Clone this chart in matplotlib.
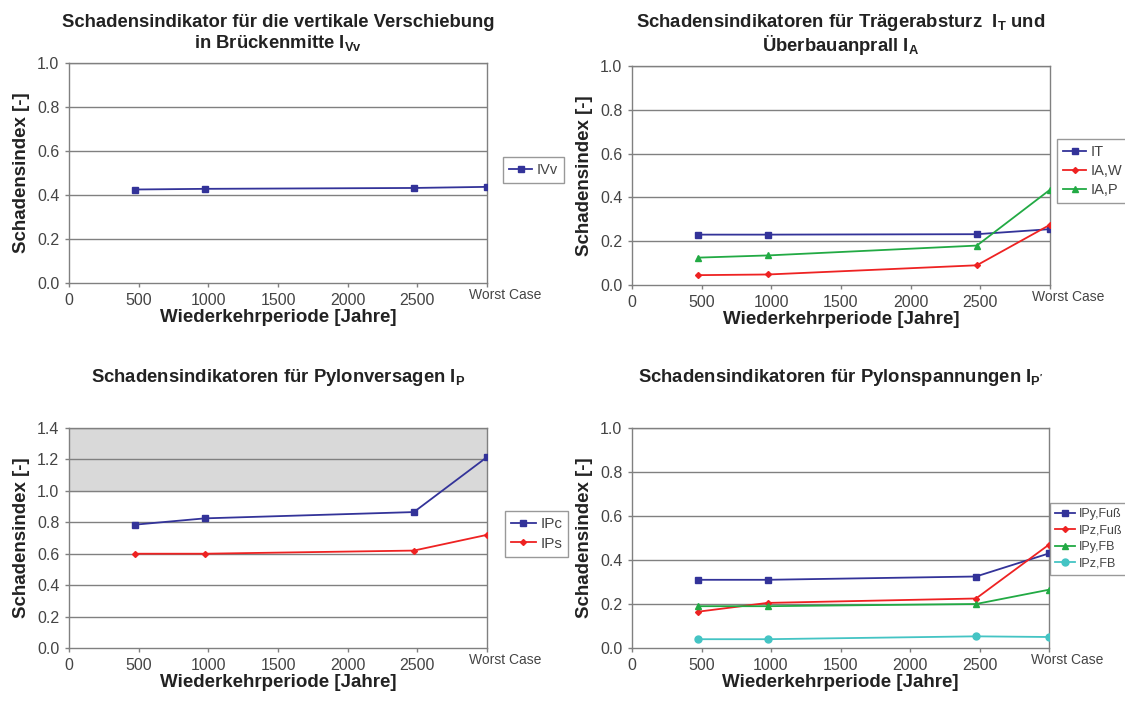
import matplotlib.pyplot as plt
import matplotlib.transforms as mtransforms

plt.rcParams['font.family'] = ['Liberation Sans', 'DejaVu Sans']
plt.rcParams['mathtext.fontset'] = 'custom'
plt.rcParams['mathtext.rm'] = 'Liberation Sans'
plt.rcParams['mathtext.bf'] = 'Liberation Sans:bold'

# x positions of the return periods; "Worst Case" sits at the axis end
periods = [475, 975, 2475, 3000]
x_ticks = [0, 500, 1000, 1500, 2000, 2500, 3000]
x_labels = ['0', '500', '1000', '1500', '2000', '2500', '']

# top left
ivv = [0.425, 0.428, 0.432, 0.437]

# top right
it = [0.230, 0.230, 0.232, 0.255]
ia_w = [0.045, 0.048, 0.090, 0.275]
ia_p = [0.125, 0.135, 0.180, 0.435]

# bottom left
ipc = [0.785, 0.825, 0.865, 1.215]
ips = [0.600, 0.600, 0.620, 0.720]

# bottom right
ipy_fuss = [0.310, 0.310, 0.325, 0.430]
ipz_fuss = [0.165, 0.205, 0.225, 0.470]
ipy_fb = [0.190, 0.190, 0.200, 0.265]
ipz_fb = [0.040, 0.040, 0.053, 0.050]

NAVY = '#333399'
RED = '#ee2222'
GREEN = '#22aa44'
CYAN = '#44c4c4'
GRID = '#808080'
TXT = '#444444'
DARK = '#222222'

W, H = 1125, 702
fig = plt.figure(figsize=(W / 100, H / 100), dpi=100)


def px_axes(x0, y0, x1, y1):
    return fig.add_axes([x0 / W, 1 - y1 / H, (x1 - x0) / W, (y1 - y0) / H])


def style(ax, ymax):
    ax.set_xlim(0, 3000)
    ax.set_ylim(0, ymax)
    ax.set_xticks(x_ticks)
    ax.set_xticklabels(x_labels)
    yt = [round(0.2 * i, 1) for i in range(int(round(ymax / 0.2)) + 1)]
    ax.set_yticks(yt)
    ax.set_yticklabels([f'{v:.1f}' for v in yt])
    ax.tick_params(labelsize=11.5, colors=GRID, labelcolor=TXT, length=3, width=1, pad=4)
    for s in ax.spines.values():
        s.set_color(GRID)
        s.set_linewidth(1)
    for v in yt[1:]:
        ax.axhline(v, color=GRID, lw=1, zorder=1)
    ax.set_xlabel('Wiederkehrperiode [Jahre]', fontsize=13.5, fontweight='bold',
                  color=DARK, labelpad=1)
    ax.set_ylabel('Schadensindex [-]', fontsize=13.5, fontweight='bold',
                  color=DARK, labelpad=5)
    off = mtransforms.ScaledTranslation(18 / 100, -5 / 100, fig.dpi_scale_trans)
    ax.text(3000, 0, 'Worst Case', transform=ax.get_xaxis_transform() + off,
            ha='center', va='top', fontsize=10, color=TXT)


def leg(ax, fx, fy, fs=10.5):
    lg = ax.legend(loc='center left', bbox_to_anchor=(fx / W, 1 - fy / H),
                   bbox_transform=fig.transFigure, fontsize=fs, frameon=True,
                   fancybox=False, edgecolor=GRID, handlelength=1.6,
                   handletextpad=0.3, borderpad=0.4, labelspacing=0.35,
                   borderaxespad=0)
    lg.get_frame().set_linewidth(1)
    for t in lg.get_texts():
        t.set_color(TXT)


TFS = 13.3

# --- top left
ax1 = px_axes(69, 63, 487, 283)
style(ax1, 1.0)
ax1.plot(periods, ivv, '-s', color=NAVY, ms=5, lw=1.3, label='IVv', zorder=3)
ax1.set_title('Schadensindikator für die vertikale Verschiebung\n'
              r'in Brückenmitte $\mathbf{I}_{\mathbf{Vv}}$',
              fontsize=TFS, fontweight='bold', color=DARK, pad=11, linespacing=1.1)
leg(ax1, 503, 170)

# --- top right
ax2 = px_axes(632, 66, 1050, 285)
style(ax2, 1.0)
ax2.plot(periods, it, '-s', color=NAVY, ms=5, lw=1.3, label='IT', zorder=3)
ax2.plot(periods, ia_w, '-D', color=RED, ms=3, lw=1.3, label='IA,W', zorder=3)
ax2.plot(periods, ia_p, '-^', color=GREEN, ms=5, lw=1.3, label='IA,P', zorder=3)
ax2.set_title(r'Schadensindikatoren für Trägerabsturz  $\mathbf{I}_{\mathbf{T}}$ und'
              '\n' r'Überbauanprall $\mathbf{I}_{\mathbf{A}}$',
              fontsize=TFS, fontweight='bold', color=DARK, pad=11, linespacing=1.0)
leg(ax2, 1057, 171)

# --- bottom left
ax3 = px_axes(69, 428, 487, 648)
style(ax3, 1.4)
ax3.axhspan(1.0, 1.4, color='#d9d9d9', zorder=0)
ax3.plot(periods, ipc, '-s', color=NAVY, ms=5, lw=1.3, label='IPc', zorder=3)
ax3.plot(periods, ips, '-D', color=RED, ms=3, lw=1.3, label='IPs', zorder=3)
ax3.set_title(r'Schadensindikatoren für Pylonversagen $\mathbf{I}_{\mathbf{P}}$',
              fontsize=TFS, fontweight='bold', color=DARK, pad=33)
leg(ax3, 505, 534, fs=11)

# --- bottom right
ax4 = px_axes(632, 428, 1049, 648)
style(ax4, 1.0)
ax4.plot(periods, ipy_fuss, '-s', color=NAVY, ms=5, lw=1.3, label='IPy,Fuß', zorder=3)
ax4.plot(periods, ipz_fuss, '-D', color=RED, ms=3, lw=1.3, label='IPz,Fuß', zorder=3)
ax4.plot(periods, ipy_fb, '-^', color=GREEN, ms=5, lw=1.3, label='IPy,FB', zorder=3)
ax4.plot(periods, ipz_fb, '-o', color=CYAN, ms=5, lw=1.3, label='IPz,FB', zorder=3)
ax4.set_title(r"Schadensindikatoren für Pylonspannungen $\mathbf{I}_{\mathbf{P'}}$",
              fontsize=TFS, fontweight='bold', color=DARK, pad=33)
leg(ax4, 1050, 539, fs=9)

fig.savefig('out.png', dpi=100)
